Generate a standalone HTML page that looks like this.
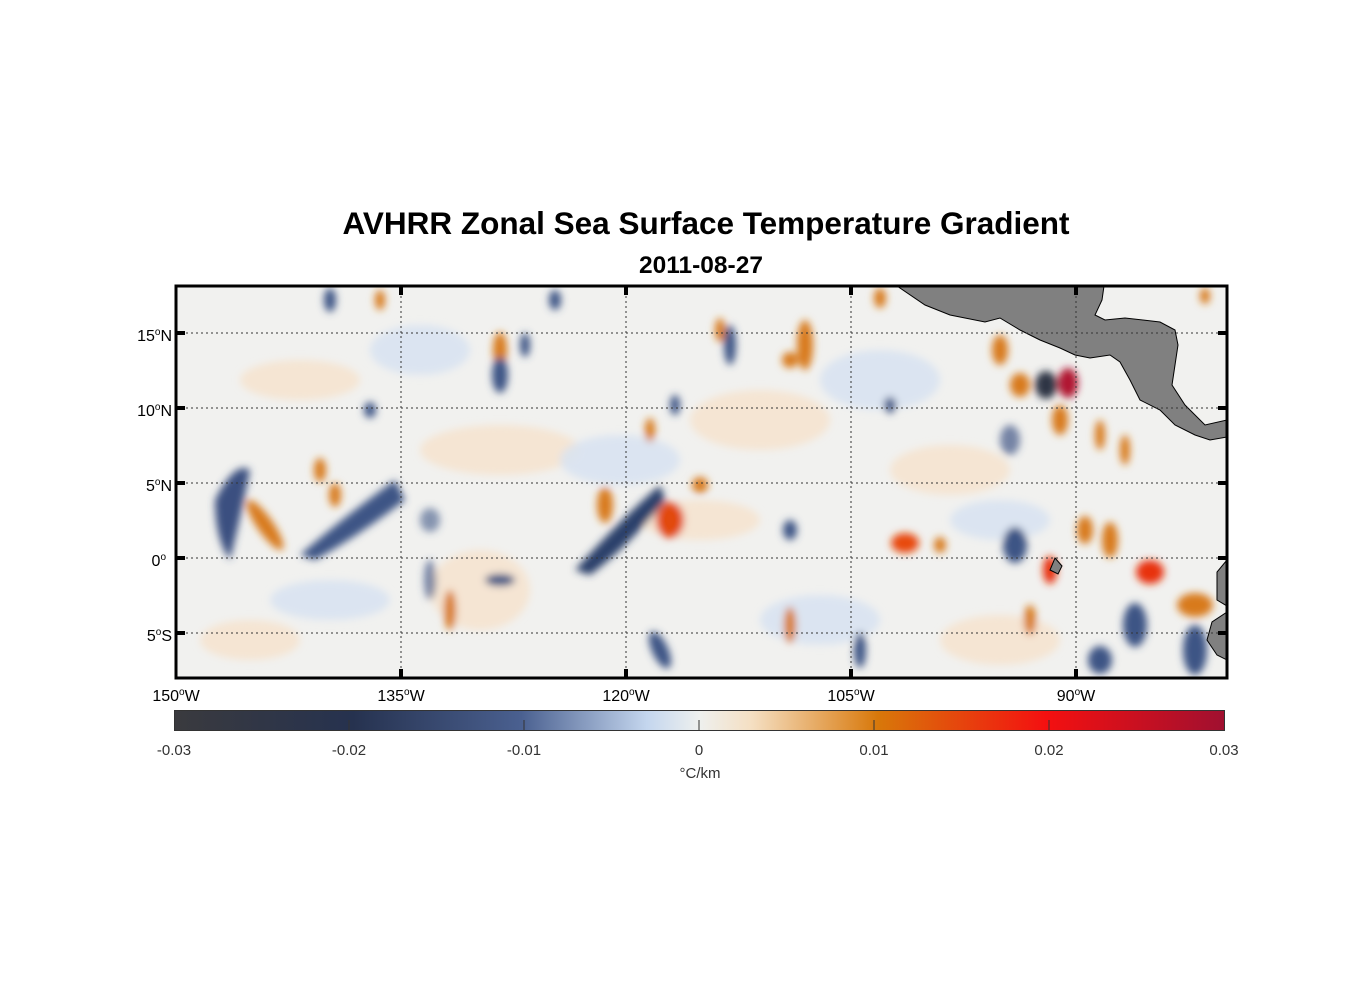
<!DOCTYPE html>
<html><head><style>
body{margin:0;background:#fff;width:1356px;height:1000px;position:relative;font-family:"Liberation Sans",sans-serif;overflow:hidden}
.t{position:absolute;white-space:nowrap;color:#000}
</style></head><body>
<div class="t" style="left:0;width:1412px;text-align:center;top:205px;font-size:31.5px;font-weight:bold">AVHRR Zonal Sea Surface Temperature Gradient</div>
<div class="t" style="left:0;width:1402px;text-align:center;top:252px;font-size:24.5px;font-weight:bold">2011-08-27</div>
<svg width="1356" height="1000" style="position:absolute;left:0;top:0">
<defs>
<filter id="b" x="-50%" y="-50%" width="200%" height="200%"><feGaussianBlur stdDeviation="4"/></filter>
<clipPath id="c"><rect x="176" y="286" width="1051" height="392"/></clipPath>
<linearGradient id="cb" x1="0" x2="1">
<stop offset="0" stop-color="#3a3a3e"/><stop offset="0.17" stop-color="#26324f"/><stop offset="0.33" stop-color="#4a6090"/><stop offset="0.45" stop-color="#c4d6ee"/><stop offset="0.5" stop-color="#eef0ee"/><stop offset="0.55" stop-color="#f5dfc2"/><stop offset="0.67" stop-color="#d8780a"/><stop offset="0.83" stop-color="#f41010"/><stop offset="1" stop-color="#a01030"/>
</linearGradient>
</defs>
<g clip-path="url(#c)">
<rect x="176" y="286" width="1051" height="392" fill="#f1f1ef"/>
<g filter="url(#b)">
<g fill="#f7e3cc" opacity="0.8">
<ellipse cx="300" cy="380" rx="60" ry="20"/><ellipse cx="500" cy="450" rx="80" ry="25"/><ellipse cx="760" cy="420" rx="70" ry="30"/><ellipse cx="950" cy="470" rx="60" ry="25"/><ellipse cx="480" cy="590" rx="50" ry="40"/><ellipse cx="700" cy="520" rx="60" ry="20"/><ellipse cx="1000" cy="640" rx="60" ry="25"/><ellipse cx="250" cy="640" rx="50" ry="20"/>
</g>
<g fill="#d6e2f2" opacity="0.8">
<ellipse cx="420" cy="350" rx="50" ry="25"/><ellipse cx="620" cy="460" rx="60" ry="25"/><ellipse cx="880" cy="380" rx="60" ry="30"/><ellipse cx="330" cy="600" rx="60" ry="20"/><ellipse cx="820" cy="620" rx="60" ry="25"/><ellipse cx="1000" cy="520" rx="50" ry="20"/>
</g>
<g fill="#d87a1c">
<ellipse cx="265" cy="525" rx="8" ry="30" transform="rotate(-35 265 525)"/><ellipse cx="320" cy="470" rx="6" ry="12"/><ellipse cx="335" cy="495" rx="6" ry="12"/>
<ellipse cx="500" cy="350" rx="7" ry="18"/><ellipse cx="605" cy="505" rx="8" ry="18"/><ellipse cx="670" cy="520" rx="14" ry="18" fill="#e24a10"/><ellipse cx="700" cy="485" rx="8" ry="8"/>
<ellipse cx="805" cy="345" rx="8" ry="25"/><ellipse cx="790" cy="360" rx="8" ry="8"/><ellipse cx="905" cy="543" rx="14" ry="10" fill="#e84a0c"/><ellipse cx="940" cy="545" rx="6" ry="8"/>
<ellipse cx="1000" cy="350" rx="8" ry="15"/><ellipse cx="1020" cy="385" rx="10" ry="12"/><ellipse cx="1060" cy="420" rx="8" ry="15"/><ellipse cx="1100" cy="435" rx="5" ry="15"/><ellipse cx="1125" cy="450" rx="5" ry="15"/>
<ellipse cx="1085" cy="530" rx="8" ry="14"/><ellipse cx="1110" cy="540" rx="8" ry="18"/><ellipse cx="1050" cy="570" rx="7" ry="14" fill="#e83010"/><ellipse cx="1150" cy="572" rx="14" ry="12" fill="#e83010"/><ellipse cx="1195" cy="605" rx="18" ry="12"/>
<ellipse cx="450" cy="610" rx="6" ry="20"/><ellipse cx="790" cy="625" rx="6" ry="18"/><ellipse cx="650" cy="430" rx="5" ry="12"/><ellipse cx="720" cy="330" rx="5" ry="12"/><ellipse cx="380" cy="300" rx="5" ry="10"/><ellipse cx="880" cy="298" rx="6" ry="10"/><ellipse cx="1205" cy="296" rx="5" ry="8"/><ellipse cx="1030" cy="620" rx="6" ry="15"/>
</g>
<g fill="#3e5585">
<path d="M215 500 Q235 460 250 470 Q240 520 230 560 Q215 540 215 500Z" fill="#3a4f80"/>
<path d="M300 555 Q340 520 395 480 L405 500 Q360 535 315 560Z"/>
<path d="M575 570 Q620 520 660 485 L665 500 Q630 545 590 575Z" fill="#2c3f6a"/>
<ellipse cx="500" cy="375" rx="8" ry="18"/><ellipse cx="525" cy="345" rx="5" ry="12"/><ellipse cx="730" cy="345" rx="6" ry="20"/><ellipse cx="790" cy="530" rx="7" ry="10"/>
<ellipse cx="1046" cy="385" rx="11" ry="14" fill="#2d3445"/><ellipse cx="890" cy="405" rx="6" ry="8"/><ellipse cx="1010" cy="440" rx="10" ry="15" opacity="0.7"/>
<ellipse cx="1015" cy="545" rx="12" ry="18"/><ellipse cx="1135" cy="625" rx="12" ry="22"/><ellipse cx="1100" cy="660" rx="12" ry="14"/><ellipse cx="1195" cy="650" rx="12" ry="25"/>
<ellipse cx="660" cy="650" rx="8" ry="20" transform="rotate(-25 660 650)"/><ellipse cx="500" cy="580" rx="15" ry="6"/><ellipse cx="860" cy="650" rx="6" ry="18"/><ellipse cx="330" cy="300" rx="6" ry="12"/><ellipse cx="555" cy="300" rx="6" ry="10"/><ellipse cx="430" cy="580" rx="6" ry="20" opacity="0.7"/><ellipse cx="430" cy="520" rx="10" ry="12" opacity="0.6"/><ellipse cx="370" cy="410" rx="6" ry="8"/><ellipse cx="675" cy="405" rx="5" ry="10"/>
</g>
<ellipse cx="1068" cy="383" rx="10" ry="15" fill="#b01830"/>
</g>
<path d="M897 286 L925 305 L950 315 L985 322 L1000 318 L1020 330 L1040 340 L1060 348 L1075 355 L1090 358 L1110 355 L1120 362 L1130 380 L1140 400 L1160 410 L1175 425 L1195 435 L1210 440 L1227 437 L1227 420 L1205 425 L1185 405 L1172 385 L1175 365 L1178 345 L1175 330 L1160 322 L1125 318 L1105 320 L1095 315 L1102 300 L1104 286Z" fill="#808080" stroke="#000" stroke-width="1"/>
<path d="M1227 560 L1217 572 L1217 600 L1227 606Z M1227 612 L1212 622 L1207 640 L1217 655 L1227 660Z" fill="#808080" stroke="#000"/>
<path d="M1055 558 L1062 566 L1058 574 L1050 570Z" fill="#808080" stroke="#000"/>
</g>
<g stroke="#333" stroke-width="1" stroke-dasharray="2,3">
<line x1="176" x2="1227" y1="333" y2="333"/><line x1="176" x2="1227" y1="408" y2="408"/><line x1="176" x2="1227" y1="483" y2="483"/><line x1="176" x2="1227" y1="558" y2="558"/><line x1="176" x2="1227" y1="633" y2="633"/>
<line x1="401" x2="401" y1="286" y2="678"/><line x1="626" x2="626" y1="286" y2="678"/><line x1="851" x2="851" y1="286" y2="678"/><line x1="1076" x2="1076" y1="286" y2="678"/>
</g>
<rect x="176" y="286" width="1051" height="392" fill="none" stroke="#000" stroke-width="3"/>
<g stroke="#000" stroke-width="4">
<line x1="401" x2="401" y1="286" y2="295"/><line x1="626" x2="626" y1="286" y2="295"/><line x1="851" x2="851" y1="286" y2="295"/><line x1="1076" x2="1076" y1="286" y2="295"/>
<line x1="401" x2="401" y1="669" y2="678"/><line x1="626" x2="626" y1="669" y2="678"/><line x1="851" x2="851" y1="669" y2="678"/><line x1="1076" x2="1076" y1="669" y2="678"/>
<line x1="176" x2="185" y1="333" y2="333"/><line x1="176" x2="185" y1="408" y2="408"/><line x1="176" x2="185" y1="483" y2="483"/><line x1="176" x2="185" y1="558" y2="558"/><line x1="176" x2="185" y1="633" y2="633"/>
<line x1="1218" x2="1227" y1="333" y2="333"/><line x1="1218" x2="1227" y1="408" y2="408"/><line x1="1218" x2="1227" y1="483" y2="483"/><line x1="1218" x2="1227" y1="558" y2="558"/><line x1="1218" x2="1227" y1="633" y2="633"/>
</g>
<rect x="174.5" y="710.5" width="1050" height="20" fill="url(#cb)" stroke="#333"/>
<g stroke="#333"><line x1="349" x2="349" y1="720" y2="730"/><line x1="524" x2="524" y1="720" y2="730"/><line x1="699" x2="699" y1="720" y2="730"/><line x1="874" x2="874" y1="720" y2="730"/><line x1="1049" x2="1049" y1="720" y2="730"/></g>
<g font-family="Liberation Sans, sans-serif" font-size="16" fill="#000">
<text x="172" y="341" text-anchor="end">15<tspan dy="-6" font-size="10">o</tspan><tspan dy="6">N</tspan></text>
<text x="172" y="416" text-anchor="end">10<tspan dy="-6" font-size="10">o</tspan><tspan dy="6">N</tspan></text>
<text x="172" y="491" text-anchor="end">5<tspan dy="-6" font-size="10">o</tspan><tspan dy="6">N</tspan></text>
<text x="166" y="566" text-anchor="end">0<tspan dy="-6" font-size="10">o</tspan></text>
<text x="172" y="641" text-anchor="end">5<tspan dy="-6" font-size="10">o</tspan><tspan dy="6">S</tspan></text>
<text x="176" y="701" text-anchor="middle">150<tspan dy="-6" font-size="10">o</tspan><tspan dy="6">W</tspan></text>
<text x="401" y="701" text-anchor="middle">135<tspan dy="-6" font-size="10">o</tspan><tspan dy="6">W</tspan></text>
<text x="626" y="701" text-anchor="middle">120<tspan dy="-6" font-size="10">o</tspan><tspan dy="6">W</tspan></text>
<text x="851" y="701" text-anchor="middle">105<tspan dy="-6" font-size="10">o</tspan><tspan dy="6">W</tspan></text>
<text x="1076" y="701" text-anchor="middle">90<tspan dy="-6" font-size="10">o</tspan><tspan dy="6">W</tspan></text>
</g>
<g font-family="Liberation Sans, sans-serif" font-size="15" fill="#333" text-anchor="middle">
<text x="174" y="755">-0.03</text><text x="349" y="755">-0.02</text><text x="524" y="755">-0.01</text><text x="699" y="755">0</text><text x="874" y="755">0.01</text><text x="1049" y="755">0.02</text><text x="1224" y="755">0.03</text>
<text x="700" y="778">°C/km</text>
</g>
</svg>
</body></html>
